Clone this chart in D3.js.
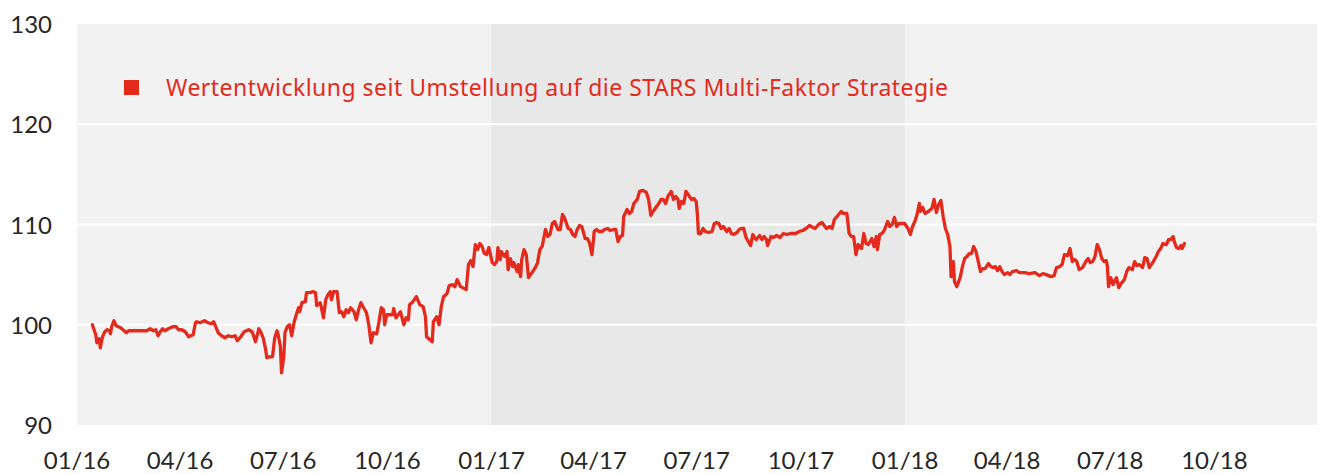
<!DOCTYPE html>
<html lang="de">
<head>
  <meta charset="UTF-8">
  <title>Wertentwicklung</title>
  <style>
    body { margin: 0; background: #fff; }
  </style>
</head>
<body>
<div id="chart"></div>
<script src="https://d3js.org/d3.v7.min.js"></script>
<script type="text/javascript">
  // Startdatum der Zeitachse, Werte als [Tage seit Start, Indexwert]
  const startDate = "2016-01-01";
  const endDate = "2018-12-31";
  const bandDates = ["2017-01-01", "2018-01-01"];
  const tickDates = ["2016-01-01", "2016-04-01", "2016-07-01", "2016-10-01",
    "2017-01-01", "2017-04-01", "2017-07-01", "2017-10-01",
    "2018-01-01", "2018-04-01", "2018-07-01", "2018-10-01"];
  const yTicks = [90, 100, 110, 120, 130];
  const gridValues = [100, 110, 120];
  const legendLabel = "Wertentwicklung seit Umstellung auf die STARS Multi-Faktor Strategie";

  const perf2016a = [[14,100.0],[17,99.0],[18,98.2],[20,98.6],[21,97.7],[23,98.8],[25,99.3],[27,99.5],[29,99.4],[30,99.1],[31,99.8],[33,100.4],[35,99.9],[39,99.7],[42,99.4],[44,99.2],[46,99.4],[52,99.4],[57,99.4],[62,99.4],[65,99.6],[68,99.4],[70,99.5],[72,98.9],[74,99.3],[76,99.6],[78,99.4],[81,99.6],[85,99.8],[88,99.8],[90,99.5],[93,99.5],[96,99.3],[99,98.8],[103,99.0],[105,100.2],[106,100.3],[109,100.2],[113,100.4],[116,100.2],[119,100.1],[121,100.3],[123,99.8],[125,99.2],[128,98.9],[131,98.7],[134,98.9],[137,98.8],[140,98.9],[142,98.4],[145,98.8],[148,99.3],[152,99.5],[155,99.3],[156,99.0],[158,98.3],[161,99.6],[163,99.2],[165,98.6],[167,97.5],[168,96.7],[170,96.8],[173,96.8]];

  const perf2016b = [[175,98.7],[177,99.4],[178,99.0],[180,97.8],[181,95.2],[183,96.8],[184,99.2],[186,99.8],[188,100.0],[190,98.9],[192,100.2],[194,101.0],[196,101.7],[197,101.3],[199,102.2],[202,102.3],[203,103.2],[206,103.2],[209,103.3],[211,103.2],[212,101.9],[215,102.2],[216,101.8],[218,100.7],[220,102.5],[222,103.0],[224,103.3],[225,102.5],[227,103.3],[230,103.3],[232,101.2],[234,101.3],[236,100.8],[238,101.5],[240,101.2],[242,101.7],[245,101.3],[247,100.5],[249,101.5],[251,102.2],[253,101.8],[256,101.2],[258,100.0],[260,98.2],[262,99.2],[265,99.1],[267,100.3],[269,101.7],[271,101.5],[272,100.0],[274,101.0],[276,101.0],[279,101.0],[280,101.6],[282,100.7],[284,101.0],[286,101.3],[289,100.0],[291,100.7],[293,100.5],[294,102.0],[297,102.3],[300,102.8],[303,102.0],[306,101.8],[308,100.8],[309,98.8],[312,98.5],[314,98.3],[315,100.3],[318,100.8],[320,100.0],[322,101.8],[324,102.8],[327,103.1],[329,103.9],[332,104.0],[334,103.8],[336,104.5],[339,103.8]];

  const perf2017a = [[344,103.5],[346,106.0],[348,106.4],[350,105.8],[352,108.0],[354,107.5],[356,108.1],[358,107.8],[360,107.1],[362,107.0],[364,107.7],[367,106.2],[369,106.0],[371,106.3],[372,107.7],[374,106.5],[375,107.3],[378,106.8],[380,107.3],[381,105.5],[383,106.6],[385,105.8],[386,106.2],[389,105.3],[390,106.0],[392,104.8],[393,106.5],[395,107.5],[397,107.0],[399,104.7],[402,105.2],[405,105.7],[407,106.2],[409,107.5],[411,107.8],[414,109.5],[416,108.8],[418,109.0],[420,110.1],[422,110.3],[425,109.5],[427,109.5],[429,111.0],[431,110.6],[434,109.6],[436,109.5],[438,109.0],[440,108.8],[442,109.5],[444,109.9],[446,109.8],[449,108.6],[451,108.6],[453,108.1],[455,107.0],[457,109.3],[459,109.5],[461,109.3],[464,109.3],[466,109.5],[469,109.6],[471,109.4],[474,109.5],[476,109.5],[478,108.3],[480,108.8],[482,108.9],[483,110.8],[486,111.5],[488,111.1],[490,111.3],[492,112.1],[495,112.5],[497,113.3],[500,113.4]];

  const perf2017b = [[503,113.2],[505,112.5],[507,110.9],[509,111.3],[512,111.8],[514,112.1],[516,112.5],[518,112.5],[520,112.1],[522,112.8],[525,113.3],[527,112.5],[529,112.8],[531,112.5],[532,111.6],[534,112.3],[536,112.1],[538,113.3],[541,112.8],[543,112.5],[545,112.6],[547,112.3],[548,111.1],[549,109.1],[551,109.1],[553,109.6],[555,109.3],[558,109.2],[561,109.3],[563,110.1],[565,110.2],[567,110.1],[569,109.6],[571,109.8],[574,109.3],[576,109.6],[578,109.1],[580,109.0],[583,109.2],[585,109.5],[587,109.6],[589,109.6],[591,108.7],[593,108.3],[595,107.9],[597,109.0],[599,108.6],[600,108.5],[603,108.9],[605,108.5],[607,108.8],[609,108.5],[610,107.9],[613,108.8],[615,108.7],[618,108.9],[621,108.7],[624,109.1],[627,109.0],[630,109.1],[632,109.1],[635,109.1],[638,109.3],[641,109.4],[644,109.6],[647,109.9],[650,109.7],[652,109.6],[655,110.0],[658,110.2],[660,109.9]];

  const perf2018a = [[662,109.6],[665,109.8],[667,109.6],[669,110.5],[672,110.9],[675,111.3],[677,111.1],[680,111.1],[682,109.1],[684,108.8],[686,108.8],[688,107.0],[690,108.0],[693,107.6],[695,109.1],[697,108.1],[699,108.0],[702,108.6],[704,107.8],[706,108.8],[707,107.5],[709,109.0],[711,109.1],[713,109.4],[716,110.3],[718,109.8],[720,110.0],[722,110.7],[724,109.8],[726,110.1],[729,110.1],[731,110.1],[734,109.6],[736,109.0],[738,109.8],[740,110.3],[742,111.0],[744,112.1],[745,111.3],[747,111.7],[749,111.1],[752,111.3],[755,111.6],[757,112.5],[759,111.2],[761,112.0],[763,112.4],[765,110.8],[767,109.6],[769,109.0],[771,107.8],[772,104.8],[774,106.3],[775,104.3],[777,103.8],[780,104.7],[782,105.8],[784,106.6],[786,106.8],[788,107.1],[790,107.1],[792,107.8],[794,107.3],[796,106.3],[798,105.3],[800,105.6],[802,105.6],[805,106.1],[807,105.8],[809,105.7],[811,105.8],[813,105.4],[815,105.8],[817,105.3],[819,105.0],[822,105.2],[824,105.0]];

  const perf2018b = [[826,105.3],[830,105.4],[832,105.2],[837,105.2],[841,105.1],[846,105.2],[850,104.9],[853,105.1],[856,105.0],[860,104.8],[863,104.9],[865,105.7],[868,105.8],[870,106.0],[872,107.0],[875,106.9],[877,107.6],[879,106.3],[881,106.5],[883,106.3],[885,105.5],[888,105.7],[891,106.3],[893,106.6],[895,106.2],[897,106.3],[899,106.8],[901,108.0],[903,107.5],[905,106.6],[907,106.3],[909,106.4],[910,105.8],[911,103.8],[913,104.7],[915,104.0],[918,104.7],[920,103.7],[922,104.1],[925,104.5],[927,105.3],[929,105.7],[932,105.5],[934,106.3],[936,105.9],[938,106.0],[941,105.7],[943,106.7],[945,106.6],[947,105.7],[950,106.2],[953,106.8],[955,107.3],[957,107.6],[959,108.1],[962,108.0],[964,108.5],[966,108.5],[968,108.8],[969,108.3],[971,107.7],[973,107.6],[975,107.9],[976,107.6],[978,108.1]];

  const W = 1325, H = 474;
  const red = "#e42a1d";
  const parse = d3.timeParse("%Y-%m-%d");
  const t0 = parse(startDate);

  const series = [].concat(perf2016a, perf2016b, perf2017a, perf2017b, perf2018a, perf2018b)
    .map(d => ({ date: d3.timeDay.offset(t0, d[0]), value: d[1] }));

  const x = d3.scaleTime().domain([t0, parse(endDate)]).range([76.5, 1317]);
  const y = d3.scaleLinear().domain([90, 130]).range([425, 24]);

  const svg = d3.select("#chart").append("svg")
    .attr("width", W).attr("height", H)
    .style("display", "block");

  // Hintergrund Plotfläche
  svg.append("rect")
    .attr("x", 77).attr("y", y(130))
    .attr("width", 1317 - 77).attr("height", y(90) - y(130))
    .attr("fill", "#f2f2f2");

  // 2017 hervorgehoben
  svg.append("rect")
    .attr("x", x(parse(bandDates[0])))
    .attr("y", y(130))
    .attr("width", x(parse(bandDates[1])) - x(parse(bandDates[0])))
    .attr("height", y(90) - y(130))
    .attr("fill", "#e8e8e8");

  svg.append("g").selectAll("line")
    .data(gridValues)
    .join("line")
    .attr("x1", 77).attr("x2", 1317)
    .attr("y1", d => y(d)).attr("y2", d => y(d))
    .attr("stroke", "#ffffff")
    .attr("stroke-width", 2);

  const yAxis = svg.append("g")
    .attr("transform", "translate(52,0)")
    .call(d3.axisLeft(y).tickValues(yTicks).tickSize(0).tickPadding(0));
  yAxis.select(".domain").remove();
  yAxis.selectAll("text")
    .attr("dy", "0.36em")
    .style("font-family", "Lato, 'Open Sans', sans-serif")
    .style("font-size", "24px")
    .style("fill", "#262626");

  const xAxis = svg.append("g")
    .attr("transform", "translate(0,425)")
    .call(d3.axisBottom(x).tickValues(tickDates.map(parse))
      .tickFormat(d3.timeFormat("%m/%y")).tickSize(0));
  xAxis.select(".domain").remove();
  xAxis.selectAll("text")
    .attr("y", 44).attr("dy", null)
    .style("font-family", "Lato, 'Open Sans', sans-serif")
    .style("font-size", "24px")
    .style("fill", "#262626");

  const line = d3.line()
    .x(d => x(d.date))
    .y(d => y(d.value));

  svg.append("path")
    .datum(series)
    .attr("d", line)
    .attr("fill", "none")
    .attr("stroke", red)
    .attr("stroke-width", 3.3)
    .attr("stroke-linejoin", "round")
    .attr("stroke-linecap", "round");

  // Legende
  svg.append("rect")
    .attr("x", 124).attr("y", 80)
    .attr("width", 15).attr("height", 15)
    .attr("fill", red);
  svg.append("text")
    .attr("x", 166).attr("y", 96)
    .attr("textLength", 782)
    .style("font-family", "'Noto Sans', sans-serif")
    .style("font-size", "23px")
    .style("fill", red)
    .text(legendLabel);
</script>
</body>
</html>
